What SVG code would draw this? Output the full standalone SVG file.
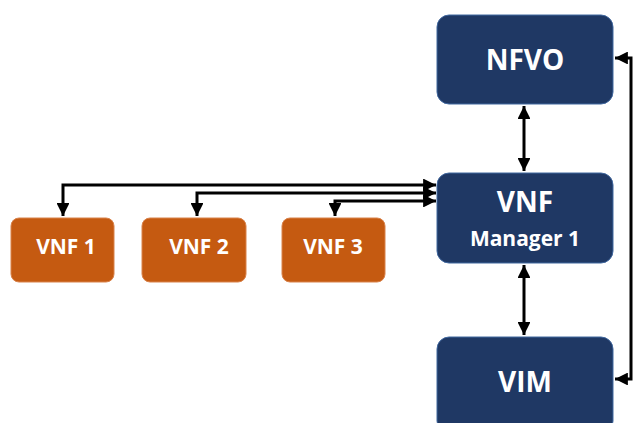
<svg xmlns="http://www.w3.org/2000/svg" width="633" height="423" viewBox="0 0 633 423">
<defs>
<marker id="ah" viewBox="0 0 10 10" refX="10" refY="5" markerWidth="4.3" markerHeight="4.3" orient="auto-start-reverse" markerUnits="strokeWidth">
<path d="M0,0 L10,5 L0,10 z" fill="#000"/>
</marker>
<style>
.blue{fill:#1F3864;stroke:#41689F;stroke-width:1}
.orange{fill:#C55A11;stroke:#D9824A;stroke-width:1}
.t{font-family:"Open Sans","Liberation Sans",sans-serif;font-weight:bold;fill:#fff;text-anchor:middle}
.c2{fill:none;stroke:#000;stroke-width:3;marker-start:url(#ah);marker-end:url(#ah)}
</style>
</defs>
<rect width="633" height="423" fill="#fff"/>
<g id="nfvo"><rect class="blue" x="437" y="15" width="176" height="89" rx="12"/><text class="t" x="525" y="70" font-size="28">NFVO</text></g>
<g id="vnfm"><rect class="blue" x="437" y="173" width="176" height="90" rx="12"/><text class="t" x="525" y="212" font-size="28">VNF</text><text class="t" x="525" y="246" font-size="21">Manager 1</text></g>
<g id="vim"><rect class="blue" x="437" y="337" width="176" height="96" rx="12"/><text class="t" x="525" y="392" font-size="28">VIM</text></g>
<g id="vnf1"><rect class="orange" x="11" y="218" width="103" height="64" rx="8"/><text class="t" x="66" y="254" font-size="21">VNF 1</text></g>
<g id="vnf2"><rect class="orange" x="142" y="218" width="104" height="64" rx="8"/><text class="t" x="199" y="254" font-size="21">VNF 2</text></g>
<g id="vnf3"><rect class="orange" x="282" y="218" width="103" height="64" rx="8"/><text class="t" x="333" y="254" font-size="21">VNF 3</text></g>
<g id="connectors">
<path class="c2" d="M524,106 L524,171"/>
<path class="c2" d="M524,265 L524,335"/>
<path class="c2" d="M615,58 L631,58 L631,379 L615,379"/>
<path class="c2" d="M63,216 L63,185 L436,185"/>
<path class="c2" d="M197,216 L197,193 L436,193"/>
<path class="c2" d="M335,216 L335,201 L436,201"/>
</g>
</svg>
